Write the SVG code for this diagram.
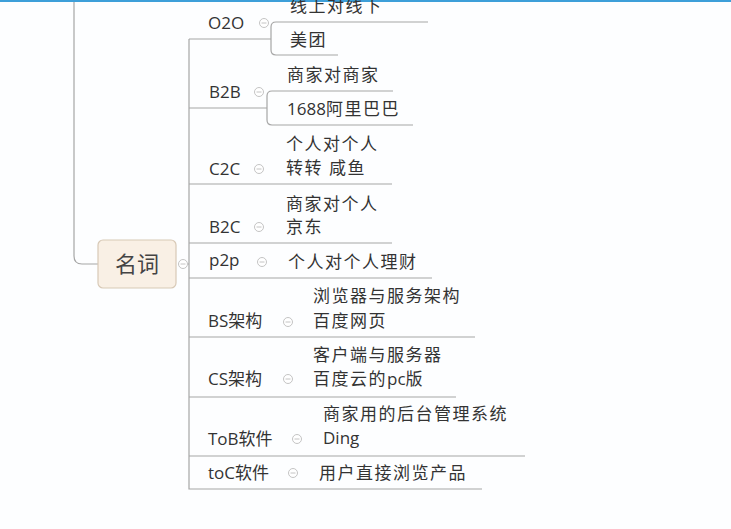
<svg xmlns="http://www.w3.org/2000/svg" width="731" height="529" viewBox="0 0 731 529">
<style>
.ln{fill:none;stroke:#a6a6a6;stroke-width:1.2}
.t{font-family:"Open Sans","Noto Sans CJK SC",sans-serif;font-size:17px;fill:#333}
.c{font-family:"Open Sans","Noto Sans CJK SC",sans-serif;font-size:17px;fill:#333;letter-spacing:1.5px}
.n{letter-spacing:0}
</style>
<defs>
<g id="minus"><circle r="4.5" fill="#ffffff" stroke="#c4c4c4" stroke-width="1"/><line x1="-2.5" y1="0" x2="2.5" y2="0" stroke="#c4c4c4" stroke-width="1"/></g>
</defs>
<rect x="0" y="0" width="731" height="529" fill="#fdfeff"/>
<rect x="0" y="0" width="731" height="2" fill="#3d9fd9"/>
<g id="connectors">
<path class="ln" d="M74,2 V256 Q74,264 82,264 H98"/>
<path class="ln" d="M188,264 H189"/>
<path class="ln" d="M189,39 V489 H482"/>
<path class="ln" d="M189,39 H271"/>
<path class="ln" d="M428,22 H276 Q271,22 271,27 V50 Q271,55 276,55 H338"/>
<path class="ln" d="M189,108 H267"/>
<path class="ln" d="M393,91 H272 Q267,91 267,96 V120 Q267,125 272,125 H413"/>
<path class="ln" d="M189,184 H392"/>
<path class="ln" d="M189,243 H392"/>
<path class="ln" d="M189,278 H432"/>
<path class="ln" d="M189,337 H475"/>
<path class="ln" d="M189,397 H456"/>
<path class="ln" d="M189,456 H525"/>
</g>
<g id="root">
<rect x="98" y="240" width="78" height="48" rx="5" fill="#f9f0e5" stroke="#d8c9b6" stroke-width="1.2"/>
<text x="137" y="272" text-anchor="middle" style="font-family:'Noto Sans CJK SC',sans-serif;font-size:22px;fill:#444">名词</text>
<use href="#minus" x="183" y="264"/>
</g>
<g id="o2o">
<text class="t" x="208" y="29">O2O</text>
<use href="#minus" x="264" y="23"/>
<text class="c" x="290" y="12">线上对线下</text>
<text class="c" x="290" y="46">美团</text>
</g>
<g id="b2b">
<text class="t" x="209" y="98">B2B</text>
<use href="#minus" x="259" y="92"/>
<text class="c" x="287" y="81">商家对商家</text>
<text class="c" x="287" y="115"><tspan class="n">1688</tspan>阿里巴巴</text>
</g>
<g id="c2c">
<text class="t" x="209" y="175">C2C</text>
<use href="#minus" x="259" y="169"/>
<text class="c" x="286" y="150">个人对个人</text>
<text class="c" x="286" y="174">转转 咸鱼</text>
</g>
<g id="b2c">
<text class="t" x="209" y="233">B2C</text>
<use href="#minus" x="259" y="227"/>
<text class="c" x="286" y="210">商家对个人</text>
<text class="c" x="286" y="233">京东</text>
</g>
<g id="p2p">
<text class="t" x="209" y="266">p2p</text>
<use href="#minus" x="262" y="262"/>
<text class="c" x="288" y="268">个人对个人理财</text>
</g>
<g id="bs">
<text class="t" x="208" y="327">BS架构</text>
<use href="#minus" x="288" y="322"/>
<text class="c" x="313" y="302">浏览器与服务架构</text>
<text class="c" x="313" y="327">百度网页</text>
</g>
<g id="cs">
<text class="t" x="208" y="385">CS架构</text>
<use href="#minus" x="288" y="379"/>
<text class="c" x="313" y="361">客户端与服务器</text>
<text class="c" x="313" y="385">百度云的<tspan class="n">pc</tspan>版</text>
</g>
<g id="tob">
<text class="t" x="208" y="445">ToB软件</text>
<use href="#minus" x="297" y="439"/>
<text class="c" x="323" y="420">商家用的后台管理系统</text>
<text class="t" x="323" y="444">Ding</text>
</g>
<g id="toc">
<text class="t" x="208" y="479">toC软件</text>
<use href="#minus" x="293" y="473"/>
<text class="c" x="319" y="479">用户直接浏览产品</text>
</g>
</svg>
